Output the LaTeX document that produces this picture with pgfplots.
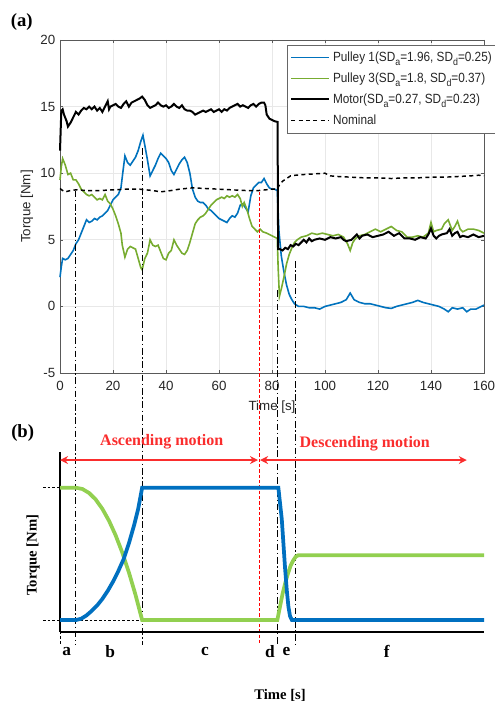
\documentclass[border=0pt]{standalone}
\usepackage{fontspec}
\setmainfont{Liberation Serif}
\newfontfamily\arial{Liberation Sans}
\newfontfamily\arialn[FakeStretch=0.885]{Liberation Sans}
\newcommand{\lsub}[1]{\raisebox{-3.2pt}{\fontsize{7.5}{8}\selectfont #1}}
\usepackage{pgfplots}
\pgfplotsset{compat=1.18}
\usetikzlibrary{arrows.meta}
\definecolor{blueM}{RGB}{0,114,189}
\definecolor{greenM}{RGB}{119,172,48}
\definecolor{blueB}{RGB}{0,112,192}
\definecolor{greenB}{RGB}{146,208,80}
\definecolor{redA}{RGB}{250,45,45}
\begin{document}
\begin{tikzpicture}
\useasboundingbox (0,0) rectangle (370.5pt,-528.75pt);
% ---------------- (a) ----------------
\begin{axis}[
  at={(45pt,-279.75pt)}, anchor=south west,
  scale only axis, width=318pt, height=249.75pt,
  xmin=0, xmax=160, ymin=-5, ymax=20,
  xtick={0,20,...,160}, ytick={-5,0,5,10,15,20},
  tick align=inside, major tick length=2.5pt,
  grid=major, major grid style={gray!18, line width=0.5pt},
  axis line style={black!65, line width=0.5pt},
  tick style={black!65},
  clip=false,
  /pgf/number format/assume math mode=true,
  tick label style={font=\arial\fontsize{10}{12}\selectfont, text=black!85},
  xticklabel style={yshift=-2.5pt},
  xlabel={Time [s]}, ylabel={Torque [Nm]},
  label style={font=\arial\fontsize{10}{12}\selectfont, text=black!85},
  xlabel style={at={(axis description cs:0.5,-0.103)}, anchor=center},
  ylabel style={at={(axis description cs:-0.078,0.5)}, anchor=center},
  legend style={at={(axis description cs:0.5347,0.986)}, anchor=north west,
    font=\arialn\fontsize{10}{12}\selectfont, draw=black!60, line width=0.5pt,
    row sep=3pt, inner sep=2.5pt, inner ysep=3pt, text=black!85},
  legend cell align=left,
  every axis plot post/.append style={legend image code/.code={\draw[##1] plot coordinates {(0pt,0pt) (28.5pt,0pt)};}},
]
\addplot[blueM, line width=1.2pt] coordinates {
(0,2.2)(0.5,3.0)(1,3.6)(2,3.5)(3,3.6)(4,3.9)(5,4.2)(6,4.7)(7,5.0)(8,5.5)(9,6.0)(10,6.5)(11,6.3)(12,6.4)(13,6.6)(14,6.5)(15,6.7)(16,6.8)(17,7.0)(18,7.2)(19,7.6)(20,8.0)(21,8.2)(22,8.4)(23,8.9)(23.8,10.2)(24.5,11.3)(25.5,10.8)(26.5,10.6)(27.5,10.9)(28.5,11.2)(29.5,11.7)(30.5,12.4)(31.3,12.85)(32,12.1)(33,11.0)(34,9.8)(35,10.2)(36,10.6)(37,11.1)(38,11.5)(39,11.3)(40,11.1)(41,10.8)(42,10.2)(43,9.9)(44,10.3)(45,10.7)(46,11.0)(47,11.2)(48,10.8)(49,10.0)(50,8.8)(51,8.2)(52,7.9)(53,7.8)(54,7.8)(55,7.6)(56,7.3)(57,7.2)(58,7.0)(59,6.8)(60,6.6)(61,6.5)(62,6.4)(63,6.3)(64,6.6)(65,6.8)(66,6.7)(67,7.0)(68,7.6)(69,7.7)(70,7.4)(71,7.1)(72,8.3)(73,8.9)(74,9.1)(75,9.3)(76,9.3)(77,9.6)(78,9.2)(79,8.9)(80,8.8)(81,8.8)(82,8.7)(82.6,5.7)(83.5,3.8)(84.5,2.6)(85.5,1.6)(86.5,0.9)(87.5,0.5)(88.5,0.2)(90,0.0)(92,0.0)(94,-0.1)(96,-0.1)(98,-0.2)(100,0.0)(102,0.1)(104,0.2)(106,0.3)(108,0.5)(109.5,1.0)(111,0.5)(113,0.3)(115,0.2)(117,0.2)(119,0.1)(121,0.0)(123,-0.1)(125,-0.15)(127,0.0)(129,0.1)(131,0.2)(133,0.3)(135,0.45)(137,0.3)(139,0.2)(141,0.1)(143,0.0)(145,-0.2)(146.5,-0.4)(148,-0.1)(150,-0.2)(152,-0.1)(153.5,-0.4)(155,-0.2)(157,-0.2)(159,0.0)(160,0.1)};
\addlegendentry{Pulley 1(SD\lsub{a}=1.96, SD\lsub{d}=0.25)}
\addplot[greenM, line width=1.2pt] coordinates {
(0,9.5)(0.5,10.5)(1,11.1)(2,10.6)(3,9.9)(4,10.0)(5,9.5)(6,9.5)(7,9.2)(8,8.8)(9,8.6)(10,8.4)(11,8.3)(12,8.4)(13,8.2)(14,8.0)(15,8.1)(16,8.0)(17,8.4)(18,7.9)(19,7.7)(20,7.3)(21,6.8)(22,6.2)(23,5.5)(23.5,4.6)(24.5,3.7)(25.5,4.3)(26.5,4.5)(27.5,4.4)(28.5,4.3)(29.5,3.6)(30.5,2.9)(31,2.75)(32,3.6)(33,4.0)(34,5.0)(35,4.6)(36,4.5)(37,4.6)(38,4.1)(39,3.6)(40,3.5)(41,4.0)(42,4.2)(43,5.0)(44,4.6)(45,4.3)(46,4.0)(47,3.9)(48,4.2)(49,4.8)(50,5.5)(51,6.2)(52,6.5)(53,6.7)(54,6.8)(55,7.0)(56,7.3)(57,7.6)(58,7.8)(59,8.0)(60,8.1)(61,8.2)(62,8.1)(63,8.3)(64,8.2)(65,8.3)(66,8.2)(67,8.4)(68,8.1)(68.8,7.5)(69.5,7.8)(70.5,7.3)(71.5,6.6)(72.5,6.0)(73.5,5.8)(74.5,5.6)(75.5,5.8)(76.5,5.6)(78,5.5)(79,5.4)(80,5.3)(81,5.2)(82,5.1)(82.3,3.0)(82.8,0.75)(83.5,1.3)(84.5,2.2)(85.5,3.2)(86.5,3.9)(87.5,4.4)(88.5,4.8)(89.5,5.0)(91,5.2)(93,5.3)(95,5.5)(97,5.4)(99,5.5)(101,5.4)(103,5.3)(105,5.4)(107,5.2)(108.5,4.7)(109.5,4.2)(110.5,4.8)(111.5,5.1)(113,5.3)(115,5.4)(117,5.6)(119,5.8)(121,5.6)(123,5.8)(125,6.0)(127,5.7)(129,5.6)(131,5.2)(133,5.2)(135,5.3)(137,5.2)(139,5.5)(140,6.3)(141,5.6)(142,5.7)(144,5.8)(145,6.2)(146.5,6.5)(148,5.7)(149,6.0)(150,6.4)(151,5.8)(152,5.6)(154,5.8)(156,5.8)(158,5.7)(160,5.5)};
\addlegendentry{Pulley 3(SD\lsub{a}=1.8, SD\lsub{d}=0.37)}
\addplot[black, line width=1.5pt] coordinates {
(0,11.7)(0.5,14.7)(1,14.8)(1.5,14.4)(2.5,13.9)(3,13.5)(4,13.8)(5,14.2)(6,14.6)(7,14.4)(8,14.7)(9,14.9)(10,14.8)(11,15.0)(12,14.8)(13,15.0)(14,14.7)(15,14.9)(16,14.6)(17,15.0)(18,15.4)(18.5,14.8)(19,15.0)(20,15.1)(21,15.2)(22,15.0)(23,14.9)(24,15.2)(25,15.4)(26,15.0)(27,15.3)(28,15.4)(29,15.5)(30,15.6)(31,15.75)(32,15.5)(33,15.1)(34,14.9)(35,15.0)(36,15.1)(37,15.3)(38,15.1)(39,15.0)(40,15.1)(41,14.9)(42,15.0)(43,15.2)(44,15.0)(45,14.9)(46,15.1)(47,14.8)(48,14.7)(49,14.7)(50,14.6)(51,14.4)(52,14.5)(53,14.6)(54,14.7)(55,14.6)(56,14.7)(57,14.8)(58,14.6)(59,14.7)(60,14.8)(61,14.6)(62,14.8)(63,14.7)(64,14.9)(65,15.0)(66,15.1)(67,15.2)(68,15.0)(69,15.1)(70,15.0)(71,14.9)(72,15.1)(73,15.2)(74,15.0)(75,15.2)(76,15.3)(77,15.3)(77.5,15.1)(78,14.4)(79,14.1)(80,14.0)(81,13.9)(82.1,13.85)(82.3,4.3)(83,4.3)(84,4.2)(85,4.4)(86,4.3)(87,4.6)(88,4.5)(89,4.7)(90,4.6)(91,4.8)(92,5.0)(93,4.8)(94,5.1)(95,4.9)(96,5.0)(98,5.1)(100,5.0)(102,5.2)(104,5.1)(106,5.2)(107,5.0)(108,4.9)(110,5.0)(112,5.4)(113,5.1)(114,5.3)(116,5.4)(118,5.2)(120,5.3)(122,5.4)(124,5.6)(126,5.3)(128,5.5)(130,5.1)(132,5.1)(134,5.0)(136,5.2)(138,5.1)(139,5.4)(140,5.85)(141,5.3)(142,5.1)(143,5.3)(144,5.4)(146,5.5)(147,5.8)(148,5.3)(149,5.5)(150,5.6)(151,5.2)(152,5.3)(154,5.2)(156,5.4)(158,5.2)(160,5.3)};
\addlegendentry{Motor(SD\lsub{a}=0.27, SD\lsub{d}=0.23)}
\addplot[black, line width=1.1pt, dash pattern=on 3pt off 2.5pt] coordinates {
(0,8.85)(1,8.7)(2,8.6)(4,8.7)(6,8.75)(10,8.7)(15,8.7)(20,8.75)(25,8.8)(30,8.8)(35,8.7)(38,8.6)(42,8.7)(45,8.8)(50,8.9)(55,8.85)(60,8.8)(65,8.75)(70,8.7)(75,8.7)(80,8.8)(82,8.8)(83,9.2)(84,9.4)(85.5,9.6)(87,9.8)(89,9.85)(92,9.9)(96,9.95)(100,10.0)(102,9.8)(105,9.75)(110,9.7)(115,9.65)(120,9.65)(125,9.6)(130,9.65)(135,9.65)(140,9.7)(145,9.7)(150,9.75)(155,9.8)(158,9.85)(160,9.8)};
\addlegendentry{Nominal}
% phase separators
\draw[black, line width=0.8pt, dash pattern=on 5pt off 2pt on 1pt off 2pt] (axis cs:6,8.7) -- (axis cs:6,-25.4);
\draw[black, line width=0.8pt, dash pattern=on 5pt off 2pt on 1pt off 2pt] (axis cs:31,11.9) -- (axis cs:31,-25.4);
\draw[black, line width=0.8pt, dash pattern=on 5pt off 2pt on 1pt off 2pt] (axis cs:82,1.2) -- (axis cs:82,-25.4);
\draw[black, line width=0.8pt, dash pattern=on 5pt off 2pt on 1pt off 2pt] (axis cs:89,3.4) -- (axis cs:89,-25.4);
\draw[red, line width=0.7pt, dash pattern=on 2.5pt off 1.5pt] (axis cs:75.1,8.6) -- (axis cs:75.1,-25.3);
\end{axis}
\node[font=\bfseries\fontsize{14}{16}\selectfont] at (16.3pt,-16.3pt) {(a)};
\node[font=\bfseries\fontsize{14}{16}\selectfont] at (17pt,-324.75pt) {(b)};
\node[font=\bfseries\fontsize{11}{13}\selectfont, rotate=90] at (24.75pt,-416.25pt) {Torque [Nm]};
\node[font=\bfseries\fontsize{11}{13}\selectfont] at (210pt,-521.25pt) {Time [s]};
% ---------------- (b) ----------------
\begin{axis}[
  at={(45pt,-473.8pt)}, anchor=south west,
  scale only axis, width=318pt, height=135pt,
  xmin=0, xmax=160, ymin=-0.0884, ymax=1.272,
  axis x line=bottom, axis y line=left,
  axis line style={-, black, line width=1.2pt},
  xtick=\empty, ytick=\empty,
  clip=false,
]
\draw[black, line width=0.4pt, dash pattern=on 2pt off 1.5pt] (axis cs:-6.4,1) -- (axis cs:0,1);
\draw[black, line width=0.4pt, dash pattern=on 2pt off 1.5pt] (axis cs:-6.4,0) -- (axis cs:31,0);
\draw[black, line width=0.4pt, dash pattern=on 2pt off 1.5pt] (axis cs:0,-0.0884) -- (axis cs:0,-0.19);
\addplot[greenB, line width=2.8pt] coordinates {
(0,1)(6,1)(8.5,0.99)(11,0.96)(13.5,0.91)(16,0.84)(18.5,0.75)(21,0.64)(23.5,0.51)(26,0.36)(28.5,0.19)(31,0)(82,0)(83,0.1)(84,0.2)(85,0.28)(86,0.35)(87,0.41)(88,0.45)(89,0.48)(90,0.49)(160,0.49)};
\addplot[blueB, line width=2.8pt] coordinates {
(0,0)(6,0)(8,0.01)(10,0.035)(12,0.07)(14,0.11)(16,0.16)(18,0.22)(20,0.29)(22,0.37)(24,0.46)(26,0.58)(28,0.72)(29.5,0.84)(31,1)(82.4,1)(83.7,0.76)(84.9,0.4)(85.6,0.22)(86.2,0.1)(86.8,0.03)(87.5,0)(160,0)};
\draw[redA, line width=1.5pt, {Stealth[length=6pt,width=6pt]}-{Stealth[length=6pt,width=6pt]}] (axis cs:0,1.209) -- (axis cs:74.7,1.209);
\draw[redA, line width=1.5pt, {Stealth[length=6pt,width=6pt]}-{Stealth[length=6pt,width=6pt]}] (axis cs:75.5,1.209) -- (axis cs:153.5,1.209);
\node[redA, font=\bfseries\fontsize{12}{14}\selectfont] at (axis cs:38.4,1.348) {Ascending motion};
\node[redA, font=\bfseries\fontsize{12}{14}\selectfont] at (axis cs:115,1.335) {Descending motion};
\node[font=\bfseries\fontsize{13}{15}\selectfont] at (axis cs:2.5,-0.24) {a};
\node[font=\bfseries\fontsize{13}{15}\selectfont] at (axis cs:18.9,-0.24) {b};
\node[font=\bfseries\fontsize{13}{15}\selectfont] at (axis cs:54.7,-0.24) {c};
\node[font=\bfseries\fontsize{13}{15}\selectfont] at (axis cs:79.2,-0.24) {d};
\node[font=\bfseries\fontsize{13}{15}\selectfont] at (axis cs:85.5,-0.24) {e};
\node[font=\bfseries\fontsize{13}{15}\selectfont] at (axis cs:123.3,-0.24) {f};
\end{axis}
\end{tikzpicture}
\end{document}
